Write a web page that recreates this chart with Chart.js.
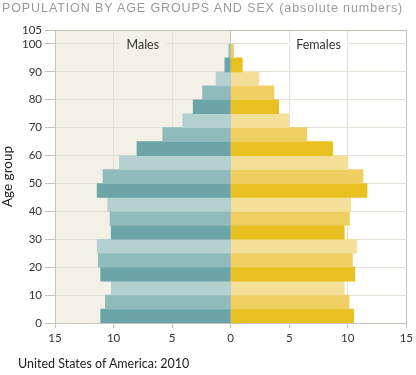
<!DOCTYPE html>
<html>
<head>
<meta charset="utf-8">
<script src="https://cdn.jsdelivr.net/npm/chart.js@4.4.1/dist/chart.umd.min.js"></script>
<style>
  body { margin: 0; background: #fff; }
  #wrap { position: relative; width: 416px; height: 375px; }
  #pyramid { position: absolute; left: 0; top: 0; }
  #title {
    position: absolute; left: 2px; top: 1px;
    font-family: "Liberation Sans", Arial, sans-serif; font-size: 12.5px;
    letter-spacing: 0.9px; color: #9a9a9a; white-space: nowrap;
  }
  #footer {
    position: absolute; left: 18px; top: 356px;
    font-family: Lato, "Open Sans", sans-serif; font-size: 12.5px; color: #222;
    white-space: nowrap;
  }
</style>
</head>
<body>
<div id="wrap">
  <canvas id="pyramid" width="416" height="375"></canvas>
  <div id="title">POPULATION BY AGE GROUPS AND SEX (absolute numbers)</div>
  <div id="footer">United States of America: 2010</div>
</div>
<script>
// age group start, 5 year steps
const ageStarts = [0, 5, 10, 15, 20, 25, 30, 35, 40, 45, 50, 55, 60, 65, 70, 75, 80, 85, 90, 95];
// millions
const males = [11.1, 10.7, 10.2, 11.1, 11.3, 11.4, 10.2, 10.3, 10.5, 11.4, 10.9, 9.5, 8.0, 5.8, 4.1, 3.2, 2.4, 1.25, 0.5, 0.15];
const females = [10.5, 10.1, 9.7, 10.6, 10.4, 10.75, 9.7, 10.15, 10.25, 11.65, 11.3, 10.0, 8.7, 6.5, 4.95, 4.1, 3.7, 2.4, 1.0, 0.25];
const yTicks = [0, 10, 20, 30, 40, 50, 60, 70, 80, 90, 100, 105];
const xTicks = [-15, -10, -5, 0, 5, 10, 15];
const sideLabels = ['Males', 'Females'];

const maleShades = ['#6ba5a7', '#8fbbbc', '#b4d0d1'];
const femaleShades = ['#e8c01f', '#efcf62', '#f4df98'];
const cream = '#f3f0e7';
const gridCol = '#e4e1d6';
const edgeCol = '#c6c3b8';
const tickFont = { family: 'Lato, "Open Sans", sans-serif', size: 11.5 };

const bgPlugin = {
  id: 'halfBg',
  beforeDraw(chart) {
    const { ctx, chartArea } = chart;
    const x0 = chart.scales.x.getPixelForValue(0);
    ctx.save();
    ctx.fillStyle = cream;
    ctx.fillRect(chartArea.left, chartArea.top, x0 - chartArea.left, chartArea.bottom - chartArea.top);
    ctx.restore();
  }
};

const sidePlugin = {
  id: 'sideLabels',
  afterDatasetsDraw(chart) {
    const { ctx } = chart;
    const xs = chart.scales.x, ys = chart.scales.y;
    const y = ys.getPixelForValue(100);
    ctx.save();
    ctx.font = '12.5px Lato, "Open Sans", sans-serif';
    ctx.textAlign = 'center';
    ctx.textBaseline = 'middle';
    [[-7.5, cream], [7.5, '#ffffff']].forEach(([v, bg], i) => {
      const x = xs.getPixelForValue(v);
      const w = ctx.measureText(sideLabels[i]).width + 14;
      ctx.fillStyle = bg;
      ctx.fillRect(x - w / 2, y - 2, w, 4);
      ctx.fillStyle = '#333';
      ctx.fillText(sideLabels[i], x, y + 1);
    });
    ctx.restore();
  }
};

new Chart(document.getElementById('pyramid'), {
  type: 'bar',
  data: {
    datasets: [{
      label: 'Males',
      data: ageStarts.map((a, i) => ({ x: -males[i], y: a + 2.5 })),
      backgroundColor: ageStarts.map((a, i) => maleShades[i % 3]),
      borderWidth: 0,
      barPercentage: 1,
      categoryPercentage: 1
    }, {
      label: 'Females',
      data: ageStarts.map((a, i) => ({ x: females[i], y: a + 2.5 })),
      backgroundColor: ageStarts.map((a, i) => femaleShades[i % 3]),
      borderWidth: 0,
      barPercentage: 1,
      categoryPercentage: 1
    }]
  },
  plugins: [bgPlugin, sidePlugin],
  options: {
    indexAxis: 'y',
    responsive: false,
    animation: false,
    layout: { padding: { top: 30, right: 8, bottom: 27, left: 0 } },
    plugins: {
      legend: { display: false },
      tooltip: { enabled: false }
    },
    scales: {
      x: {
        type: 'linear',
        stacked: true,
        min: -15,
        max: 15,
        afterBuildTicks: s => { s.ticks = xTicks.map(v => ({ value: v })); },
        afterFit: s => { s.height = 25; },
        ticks: {
          color: '#333',
          font: tickFont,
          padding: 3,
          callback: v => Math.abs(v)
        },
        grid: {
          color: c => (c.tick && (c.tick.value === 15 || c.tick.value === 0)) ? edgeCol : gridCol,
          tickColor: edgeCol,
          tickLength: 5
        },
        border: { color: edgeCol }
      },
      y: {
        type: 'linear',
        stacked: true,
        offset: false,
        min: 0,
        max: 105,
        afterBuildTicks: s => { s.ticks = yTicks.map(v => ({ value: v })); },
        afterFit: s => { s.width = 55; },
        ticks: {
          color: '#333',
          font: tickFont,
          padding: 3,
          autoSkip: false
        },
        grid: {
          offset: false,
          color: c => (c.tick && c.tick.value === 105) ? edgeCol : gridCol,
          tickColor: edgeCol,
          tickLength: 10
        },
        border: { color: edgeCol },
        title: {
          display: true,
          text: 'Age group',
          color: '#222',
          font: { family: 'Lato, "Open Sans", sans-serif', size: 13.5 },
          padding: { top: 0, bottom: 0 }
        }
      }
    }
  }
});
</script>
</body>
</html>
